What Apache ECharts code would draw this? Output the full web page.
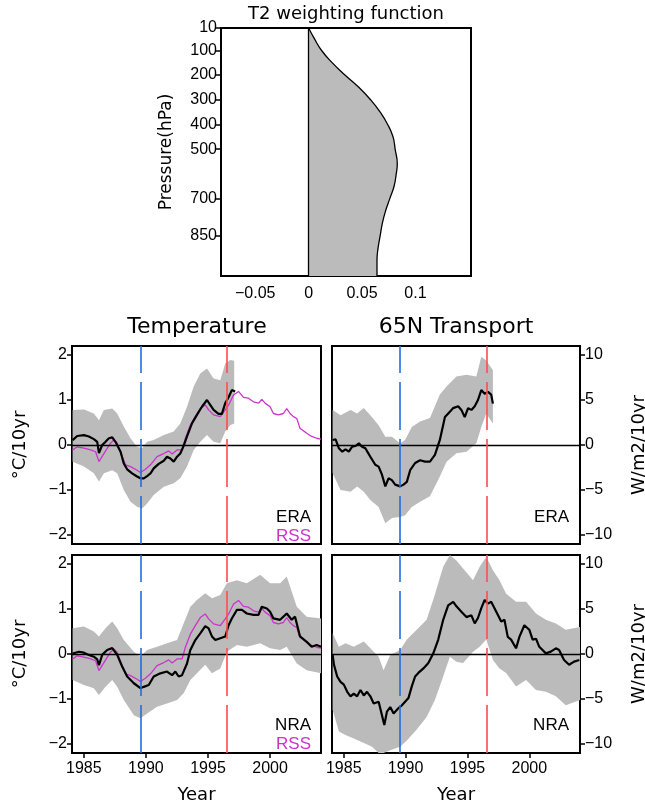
<!DOCTYPE html>
<html>
<head>
<meta charset="utf-8">
<script src="https://cdn.jsdelivr.net/npm/echarts@6/dist/echarts.min.js"></script>
<style>
  html, body { margin: 0; padding: 0; background: #fff; }
  #chart { width: 645px; height: 806px; }
</style>
</head>
<body>
<div id="chart"></div>
<script>
// T2 weighting function: pressure (hPa) and weight
const wfPres = [10, 50, 100, 150, 200, 250, 300, 350, 400, 450, 500, 560, 600, 650, 700, 750, 800, 850, 900, 950, 1013]
const wfWeight = [0, 0.005, 0.012, 0.022, 0.034, 0.047, 0.058, 0.067, 0.074, 0.079, 0.081, 0.083, 0.082, 0.080, 0.076, 0.072, 0.069, 0.067, 0.065, 0.064, 0.064]

const wfXTicks = [-0.05, 0, 0.05, 0.1]
const wfYTicks = [10, 100, 200, 300, 400, 500, 700, 850]
const yearTicks = [1985, 1990, 1995, 2000]
const tempTicks = [-2, -1, 0, 1, 2]
const transTicks = [-10, -5, 0, 5, 10]

// vertical dashed markers (blue, red)
const eventYears = [1989.55, 1996.55]

// temperature trend, ERA (black) [year, value]
const eraTemp = [[1984.1, 0.11], [1984.47, 0.2], [1985.01, 0.22], [1985.41, 0.19], [1985.81, 0.13], [1986.08, 0.07], [1986.22, -0.18], [1986.48, 0], [1986.75, 0.07], [1987.02, 0.15], [1987.29, 0.17], [1987.55, 0.07], [1987.96, -0.15], [1988.22, -0.41], [1988.49, -0.54], [1988.89, -0.63], [1989.29, -0.7], [1989.56, -0.74], [1989.83, -0.74], [1990.10, -0.69], [1990.37, -0.63], [1990.63, -0.52], [1991.03, -0.42], [1991.44, -0.35], [1991.70, -0.26], [1991.97, -0.3], [1992.24, -0.37], [1992.51, -0.26], [1992.77, -0.19], [1993.04, -0.02], [1993.31, 0.19], [1993.71, 0.48], [1994.11, 0.67], [1994.51, 0.85], [1994.92, 1.0], [1995.18, 0.89], [1995.45, 0.78], [1995.85, 0.69], [1996.12, 0.69], [1996.39, 0.93], [1996.66, 1.06], [1996.92, 1.22], [1997.19, 1.19]]
// [year, low, high]
const eraTempBand = [[1984.1, -0.37, 0.78], [1985.01, -0.48, 0.79], [1985.81, -0.63, 0.7], [1986.22, -0.81, 0.55], [1986.62, -0.63, 0.78], [1987.29, -0.56, 0.81], [1987.69, -0.63, 0.7], [1988.22, -1.0, 0.41], [1988.76, -1.26, 0.15], [1989.29, -1.37, -0.04], [1989.70, -1.41, -0.07], [1990.10, -1.3, 0.07], [1990.63, -1.11, 0.11], [1991.44, -0.93, 0.22], [1992.24, -0.85, 0.3], [1992.77, -0.74, 0.48], [1993.31, -0.48, 0.85], [1993.85, -0.11, 1.3], [1994.38, 0.07, 1.59], [1994.92, 0.22, 1.7], [1995.45, 0.07, 1.48], [1995.99, 0.04, 1.44], [1996.39, 0.3, 1.81], [1996.79, 0.44, 1.89], [1997.11, 0.48, 1.87]]

// RSS (magenta), same in both temperature panels
const rssTemp = [[1984.1, -0.11], [1984.47, -0.04], [1985.01, -0.07], [1985.55, -0.11], [1985.95, -0.15], [1986.22, -0.37], [1986.62, -0.19], [1987.15, 0.04], [1987.42, 0.11], [1987.69, 0.04], [1988.09, -0.26], [1988.36, -0.44], [1988.76, -0.48], [1989.29, -0.56], [1989.56, -0.61], [1989.96, -0.54], [1990.37, -0.44], [1990.90, -0.26], [1991.44, -0.19], [1991.84, -0.13], [1992.11, -0.2], [1992.51, -0.11], [1992.91, -0.11], [1993.18, 0.15], [1993.58, 0.44], [1993.98, 0.63], [1994.38, 0.81], [1994.78, 0.89], [1995.05, 0.78], [1995.45, 0.67], [1995.99, 0.63], [1996.39, 0.78], [1996.66, 0.89], [1997.06, 1.11], [1997.46, 1.19], [1997.86, 1.06], [1998.26, 1.04], [1998.66, 0.96], [1999.07, 0.93], [1999.33, 1.01], [1999.60, 0.93], [2000.0, 0.85], [2000.27, 0.7], [2000.67, 0.67], [2001.07, 0.7], [2001.34, 0.81], [2001.61, 0.7], [2001.88, 0.63], [2002.15, 0.59], [2002.41, 0.37], [2002.95, 0.26], [2003.35, 0.19], [2003.75, 0.15], [2004.1, 0.13]]

// temperature trend, NRA (black)
const nraTemp = [[1984.1, 0.01], [1984.61, 0.05], [1985.01, 0.03], [1985.41, -0.02], [1985.81, -0.06], [1986.08, -0.12], [1986.22, -0.25], [1986.48, -0.02], [1986.88, 0.09], [1987.29, 0.13], [1987.69, -0.02], [1988.09, -0.28], [1988.49, -0.5], [1989.03, -0.65], [1989.56, -0.76], [1989.83, -0.73], [1990.23, -0.69], [1990.63, -0.5], [1991.17, -0.43], [1991.70, -0.39], [1992.11, -0.47], [1992.37, -0.39], [1992.64, -0.5], [1992.91, -0.47], [1993.31, -0.21], [1993.58, 0.09], [1993.98, 0.31], [1994.38, 0.46], [1994.78, 0.62], [1995.05, 0.57], [1995.32, 0.39], [1995.59, 0.31], [1995.99, 0.35], [1996.39, 0.39], [1996.66, 0.64], [1996.92, 0.79], [1997.33, 0.98], [1997.73, 0.98], [1998.13, 0.9], [1998.66, 0.87], [1999.07, 0.87], [1999.33, 1.05], [1999.74, 1.01], [2000.0, 0.94], [2000.27, 0.79], [2000.81, 0.76], [2001.34, 0.9], [2001.74, 0.76], [2002.01, 0.83], [2002.41, 0.39], [2002.95, 0.27], [2003.35, 0.16], [2003.75, 0.2], [2004.1, 0.16]]
const nraTempBand = [[1984.1, -0.58, 0.57], [1985.01, -0.69, 0.61], [1985.81, -0.76, 0.5], [1986.22, -0.91, 0.39], [1986.75, -0.73, 0.57], [1987.29, -0.58, 0.72], [1987.69, -0.73, 0.57], [1988.22, -1.02, 0.31], [1989.03, -1.36, 0.05], [1989.56, -1.43, -0.06], [1990.10, -1.32, 0.09], [1990.90, -1.17, 0.16], [1991.70, -1.1, 0.24], [1992.51, -1.02, 0.31], [1993.04, -0.87, 0.68], [1993.58, -0.58, 1.05], [1994.11, -0.43, 1.2], [1994.78, -0.24, 1.35], [1995.32, -0.43, 1.24], [1995.99, -0.32, 1.31], [1996.52, 0.05, 1.57], [1997.33, 0.2, 1.64], [1998.13, 0.16, 1.57], [1999.20, 0.24, 1.76], [2000.0, 0.13, 1.57], [2000.81, 0.09, 1.57], [2001.34, 0.16, 1.72], [2002.15, -0.21, 1.05], [2002.95, -0.36, 0.83], [2004.1, -0.43, 0.79]]

// 65N transport trend, ERA
const eraTrans = [[1984.1, 0.56], [1984.34, 0.63], [1984.61, -0.37], [1984.88, -0.74], [1985.14, -0.48], [1985.41, -0.74], [1985.68, -0.19], [1985.95, -0.11], [1986.22, 0.19], [1986.48, -0.19], [1986.75, -0.37], [1987.15, -1.3], [1987.55, -2.2], [1987.82, -2.4], [1988.09, -3.3], [1988.36, -4.6], [1988.62, -3.7], [1988.89, -3.9], [1989.16, -4.4], [1989.56, -4.6], [1989.83, -4.4], [1990.10, -4.1], [1990.37, -2.8], [1990.77, -2.0], [1991.17, -1.7], [1991.57, -1.85], [1991.97, -1.85], [1992.37, -1.1], [1992.77, 0.56], [1993.18, 3.1], [1993.58, 3.7], [1993.85, 4.1], [1994.25, 4.3], [1994.51, 3.9], [1994.78, 3.1], [1995.05, 4.1], [1995.32, 3.9], [1995.59, 4.3], [1995.85, 5.0], [1996.12, 6.1], [1996.39, 5.7], [1996.66, 5.9], [1996.92, 5.6], [1997.06, 4.6]]
const eraTransBand = [[1984.1, -3.1, 3.9], [1984.74, -5.0, 3.3], [1985.55, -5.2, 3.9], [1986.08, -4.6, 3.5], [1986.62, -5.2, 4.1], [1987.15, -6.1, 3.3], [1987.82, -6.9, 2.2], [1988.36, -8.7, 0.93], [1988.89, -8.1, 0.93], [1989.56, -8.0, 0.19], [1989.96, -7.8, 0.56], [1990.50, -6.9, 2.0], [1991.17, -6.3, 2.6], [1991.97, -5.7, 3.0], [1992.77, -3.5, 5.6], [1993.31, -1.85, 6.5], [1994.11, -0.93, 7.6], [1994.92, -0.74, 7.8], [1995.72, 0.19, 7.6], [1996.12, 2.0, 9.8], [1996.52, 3.5, 9.4], [1997.06, 2.4, 8.3]]

// 65N transport trend, NRA
const nraTrans = [[1984.1, -0.1], [1984.21, -1.2], [1984.47, -2.5], [1984.74, -3.1], [1985.01, -3.4], [1985.28, -4.2], [1985.55, -4.7], [1985.81, -4.4], [1986.08, -4.7], [1986.35, -4.0], [1986.62, -4.6], [1986.88, -4.2], [1987.15, -4.7], [1987.42, -5.5], [1987.82, -5.3], [1988.09, -6.8], [1988.28, -7.9], [1988.49, -6.4], [1988.76, -5.9], [1989.03, -6.6], [1989.43, -6.0], [1989.70, -5.7], [1989.96, -5.3], [1990.23, -4.9], [1990.50, -3.6], [1990.77, -2.5], [1991.03, -2.1], [1991.44, -1.6], [1991.84, -1.0], [1992.24, 0.07], [1992.64, 1.6], [1993.04, 3.8], [1993.44, 5.4], [1993.85, 5.8], [1994.11, 5.3], [1994.51, 4.7], [1994.92, 4.1], [1995.32, 4.3], [1995.59, 3.4], [1995.85, 4.0], [1996.12, 5.1], [1996.39, 6.0], [1996.66, 5.6], [1996.92, 5.8], [1997.33, 4.7], [1997.73, 3.6], [1997.99, 3.8], [1998.26, 1.9], [1998.53, 1.6], [1998.93, 0.63], [1999.20, 1.9], [1999.60, 3.2], [2000.00, 2.7], [2000.27, 1.6], [2000.54, 1.7], [2000.81, 0.8], [2001.34, 0.07], [2001.74, 0.26], [2002.15, 0.63], [2002.41, 0.44], [2002.81, -0.67], [2003.22, -1.2], [2003.62, -0.85], [2004.05, -0.67]]
const nraTransBand = [[1984.1, -6.2, 2.3], [1984.61, -8.6, 0.8], [1985.14, -9.0, 1.2], [1985.81, -9.4, 0.8], [1986.62, -9.9, 1.4], [1987.29, -10.3, 0.44], [1987.82, -11, -0.3], [1988.22, -11, -1.8], [1988.76, -10.7, -0.1], [1989.56, -10.3, 0.44], [1990.10, -9.6, 1.6], [1990.90, -8.4, 2.7], [1991.70, -7.0, 3.8], [1992.37, -5.1, 6.6], [1993.04, -2.5, 9.7], [1993.58, -0.3, 11], [1994.11, -0.85, 10.4], [1994.65, -1.0, 9.5], [1995.45, 0.26, 8.2], [1995.99, 0.8, 9.7], [1996.52, 1.6, 10.8], [1997.06, -0.67, 9.3], [1997.59, -1.6, 8.2], [1998.13, -2.1, 6.7], [1998.93, -3.6, 5.8], [1999.74, -2.9, 5.8], [2000.54, -4.0, 4.5], [2001.34, -4.2, 3.8], [2002.15, -4.7, 3.4], [2002.95, -5.7, 2.7], [2004.1, -5.1, 3.0]]

const gray = '#bbbbbb'
const magenta = '#cc33cc'
const blue = '#1f6fe0'
const red = '#ff4d4d'
const tickFont = { fontSize: 16, fontFamily: 'Liberation Sans', color: '#000' }
const nameFont = { fontSize: 18, fontFamily: 'DejaVu Sans', color: '#000' }
const minus = v => String(v).replace('-', '\u2212')

const panels = [
  { left: 72, top: 346, right: false, bottom: false, line: eraTemp, band: eraTempBand, rss: true },
  { left: 332, top: 346, right: true, bottom: false, line: eraTrans, band: eraTransBand, rss: false },
  { left: 72, top: 555, right: false, bottom: true, line: nraTemp, band: nraTempBand, rss: true },
  { left: 332, top: 555, right: true, bottom: true, line: nraTrans, band: nraTransBand, rss: false }
]

// 画一条阴影带 (polygon from band rows)
function bandRenderer (band) {
  return function (params, api) {
    if (params.dataIndex !== 0) return
    const upper = band.map(d => api.coord([d[0], d[2]]))
    const lower = band.map(d => api.coord([d[0], d[1]])).reverse()
    return {
      type: 'polygon',
      shape: { points: upper.concat(lower) },
      style: { fill: gray }
    }
  }
}

const grid = [{ left: 221, top: 28, width: 250, height: 248, show: true, borderColor: '#000', borderWidth: 2, outerBoundsMode: 'none' }]
const xAxis = [{
  type: 'value', gridIndex: 0, min: -0.082, max: 0.152,
  axisLine: { show: false, onZero: false }, splitLine: { show: false },
  axisTick: { show: false },
  axisLabel: Object.assign({ customValues: wfXTicks, formatter: minus, margin: 10 }, tickFont)
}]
const yAxis = [{
  type: 'value', gridIndex: 0, min: 10, max: 1013, inverse: true,
  name: 'Pressure(hPa)', nameLocation: 'middle', nameGap: 46, nameRotate: 90,
  nameTextStyle: Object.assign({}, nameFont, { fontSize: 17 }),
  axisLine: { show: false, onZero: false }, splitLine: { show: false },
  axisTick: { show: true, length: 5, customValues: wfYTicks, lineStyle: { color: '#000', width: 1.5 } },
  axisLabel: Object.assign({ customValues: wfYTicks, margin: 4 }, tickFont)
}]

const series = [
  {
    type: 'custom',
    xAxisIndex: 0,
    yAxisIndex: 0,
    data: wfPres.map((p, i) => [wfWeight[i], p]),
    renderItem: function (params, api) {
      if (params.dataIndex !== 0) return
      const pts = wfPres.map((p, i) => api.coord([wfWeight[i], p]))
      pts.push(api.coord([0, wfPres[wfPres.length - 1]]))
      pts.push(api.coord([0, wfPres[0]]))
      return { type: 'polygon', shape: { points: pts }, style: { fill: gray } }
    },
    silent: true
  },
  {
    type: 'line',
    xAxisIndex: 0,
    yAxisIndex: 0,
    data: wfPres.map((p, i) => [wfWeight[i], p]),
    smooth: true,
    showSymbol: false,
    lineStyle: { color: '#000', width: 1.3 },
    markLine: {
      silent: true, symbol: 'none', label: { show: false },
      lineStyle: { color: '#000', width: 1.3, type: 'solid' },
      data: [{ xAxis: 0 }]
    }
  }
]

panels.forEach((p, k) => {
  const i = k + 1
  grid.push({ left: p.left, top: p.top, width: p.right ? 248 : 249, height: 198, show: true, borderColor: '#000', borderWidth: 2, outerBoundsMode: 'none' })
  xAxis.push({
    type: 'value', gridIndex: i, min: 1984.05, max: 2004.1,
    name: p.bottom ? 'Year' : '', nameLocation: 'middle', nameGap: 33, nameTextStyle: nameFont,
    axisLine: { show: false, onZero: false }, splitLine: { show: false },
    axisTick: { show: p.bottom, length: 5, customValues: yearTicks, lineStyle: { color: '#000', width: 1.5 } },
    axisLabel: Object.assign({ show: p.bottom, customValues: yearTicks, formatter: v => String(v), margin: 8 }, tickFont)
  })
  yAxis.push({
    type: 'value', gridIndex: i, position: p.right ? 'right' : 'left',
    min: p.right ? -11 : -2.2, max: p.right ? 11 : 2.2,
    name: p.right ? 'W/m2/10yr' : '°C/10yr', nameLocation: 'middle', nameRotate: 90,
    nameGap: p.right ? 50 : 43, nameTextStyle: nameFont,
    axisLine: { show: false, onZero: false }, splitLine: { show: false },
    axisTick: { show: true, length: 5, customValues: p.right ? transTicks : tempTicks, lineStyle: { color: '#000', width: 1.5 } },
    axisLabel: Object.assign({ customValues: p.right ? transTicks : tempTicks, formatter: minus, margin: 5 }, tickFont)
  })
  series.push({
    type: 'custom',
    xAxisIndex: i,
    yAxisIndex: i,
    data: p.band,
    encode: { x: 0, y: [1, 2] },
    renderItem: bandRenderer(p.band),
    silent: true,
    z: 1
  })
  if (p.rss) {
    series.push({
      type: 'line', xAxisIndex: i, yAxisIndex: i, data: rssTemp,
      showSymbol: false, lineStyle: { color: magenta, width: 1.3 }, z: 3
    })
  }
  series.push({
    type: 'line', xAxisIndex: i, yAxisIndex: i, data: p.line,
    showSymbol: false, lineStyle: { color: '#000', width: 2.2 }, z: 4,
    markLine: {
      silent: true, symbol: 'none', label: { show: false },
      data: [
        { yAxis: 0, lineStyle: { color: '#000', width: 1.3, type: 'solid' } },
        { xAxis: eventYears[0], lineStyle: { color: blue, width: 1.6, type: [48, 9] } },
        { xAxis: eventYears[1], lineStyle: { color: red, width: 1.6, type: [48, 9] } }
      ]
    }
  })
})

function label (text, x, y, align, color, size, family) {
  return {
    type: 'text', x: x, y: y, silent: true, z: 10,
    style: { text: text, align: align, verticalAlign: 'middle', fill: color || '#000', fontSize: size || 17, fontFamily: family || 'Liberation Sans' }
  }
}

const graphic = [
  label('T2 weighting function', 346, 14, 'center', '#000', 18, 'DejaVu Sans'),
  label('Temperature', 197, 327, 'center', '#000', 22, 'DejaVu Sans'),
  label('65N Transport', 456, 327, 'center', '#000', 22, 'DejaVu Sans'),
  label('ERA', 311, 517, 'right'),
  label('RSS', 311, 536, 'right', magenta),
  label('ERA', 569, 517, 'right'),
  label('NRA', 311, 725, 'right'),
  label('RSS', 311, 744, 'right', magenta),
  label('NRA', 569, 725, 'right')
]

const myChart = echarts.init(document.getElementById('chart'))
myChart.setOption({
  animation: false,
  backgroundColor: '#fff',
  grid: grid,
  xAxis: xAxis,
  yAxis: yAxis,
  series: series,
  graphic: graphic
})
</script>
</body>
</html>
